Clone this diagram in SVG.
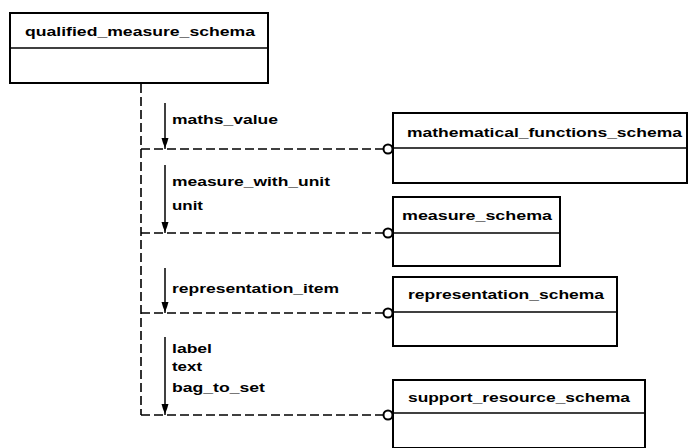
<svg xmlns="http://www.w3.org/2000/svg" width="690" height="448" viewBox="0 0 690 448">
<style>
.box{fill:#fff;stroke:#000;stroke-width:2}
.div{stroke:#000;stroke-width:1.6}
.t{font-family:"Liberation Sans",Arial,sans-serif;font-size:13px;font-weight:bold;fill:#000}
.dash{fill:none;stroke:#000;stroke-width:1.6;stroke-dasharray:9 4}
.arr{fill:none;stroke:#000;stroke-width:1.5}
.head{fill:#000}
.circ{fill:#fff;stroke:#000;stroke-width:2}
</style>
<rect width="690" height="448" fill="#fff"/>
<g id="connectors">
<line class="dash" x1="141" y1="84" x2="141" y2="415"/>
<line class="dash" x1="141" y1="149" x2="383" y2="149"/>
<line class="dash" x1="141" y1="233" x2="383" y2="233"/>
<line class="dash" x1="141" y1="313" x2="383" y2="313"/>
<line class="dash" x1="141" y1="415" x2="383" y2="415"/>
<circle class="circ" cx="388" cy="149" r="4.5"/>
<circle class="circ" cx="388" cy="233" r="4.5"/>
<circle class="circ" cx="388" cy="313" r="4.5"/>
<circle class="circ" cx="388" cy="415" r="4.5"/>
<line class="arr" x1="165" y1="103" x2="165" y2="149"/>
<polygon class="head" points="161.5,138 168.5,138 167,143 165,148 163,143"/>
<line class="arr" x1="165" y1="165" x2="165" y2="233"/>
<polygon class="head" points="161.5,222 168.5,222 167,227 165,232 163,227"/>
<line class="arr" x1="165" y1="268" x2="165" y2="313"/>
<polygon class="head" points="161.5,302 168.5,302 167,307 165,312 163,307"/>
<line class="arr" x1="165" y1="337" x2="165" y2="415"/>
<polygon class="head" points="161.5,404 168.5,404 167,409 165,414 163,409"/>
<text class="t" x="172" y="124" textLength="106" lengthAdjust="spacingAndGlyphs">maths_value</text>
<text class="t" x="172" y="186" textLength="158" lengthAdjust="spacingAndGlyphs">measure_with_unit</text>
<text class="t" x="172" y="210" textLength="31" lengthAdjust="spacingAndGlyphs">unit</text>
<text class="t" x="172" y="293" textLength="167" lengthAdjust="spacingAndGlyphs">representation_item</text>
<text class="t" x="172" y="353" textLength="40" lengthAdjust="spacingAndGlyphs">label</text>
<text class="t" x="172" y="371" textLength="30" lengthAdjust="spacingAndGlyphs">text</text>
<text class="t" x="172" y="392" textLength="93" lengthAdjust="spacingAndGlyphs">bag_to_set</text>
</g>
<g id="qualified_measure_schema">
<rect class="box" x="10" y="13" width="258" height="70"/>
<line class="div" x1="10" y1="48" x2="268" y2="48"/>
<text class="t" x="25" y="36" textLength="230" lengthAdjust="spacingAndGlyphs">qualified_measure_schema</text>
</g>
<g id="mathematical_functions_schema">
<rect class="box" x="393" y="113" width="294" height="70"/>
<line class="div" x1="393" y1="148" x2="687" y2="148"/>
<text class="t" x="407" y="137" textLength="275" lengthAdjust="spacingAndGlyphs">mathematical_functions_schema</text>
</g>
<g id="measure_schema">
<rect class="box" x="393" y="197" width="167" height="69"/>
<line class="div" x1="393" y1="233" x2="560" y2="233"/>
<text class="t" x="402" y="220" textLength="150" lengthAdjust="spacingAndGlyphs">measure_schema</text>
</g>
<g id="representation_schema">
<rect class="box" x="393" y="277" width="224" height="69"/>
<line class="div" x1="393" y1="312" x2="617" y2="312"/>
<text class="t" x="408" y="299" textLength="196" lengthAdjust="spacingAndGlyphs">representation_schema</text>
</g>
<g id="support_resource_schema">
<rect class="box" x="393" y="380" width="252" height="68"/>
<line class="div" x1="393" y1="413" x2="645" y2="413"/>
<text class="t" x="408" y="402" textLength="222" lengthAdjust="spacingAndGlyphs">support_resource_schema</text>
</g>
</svg>
